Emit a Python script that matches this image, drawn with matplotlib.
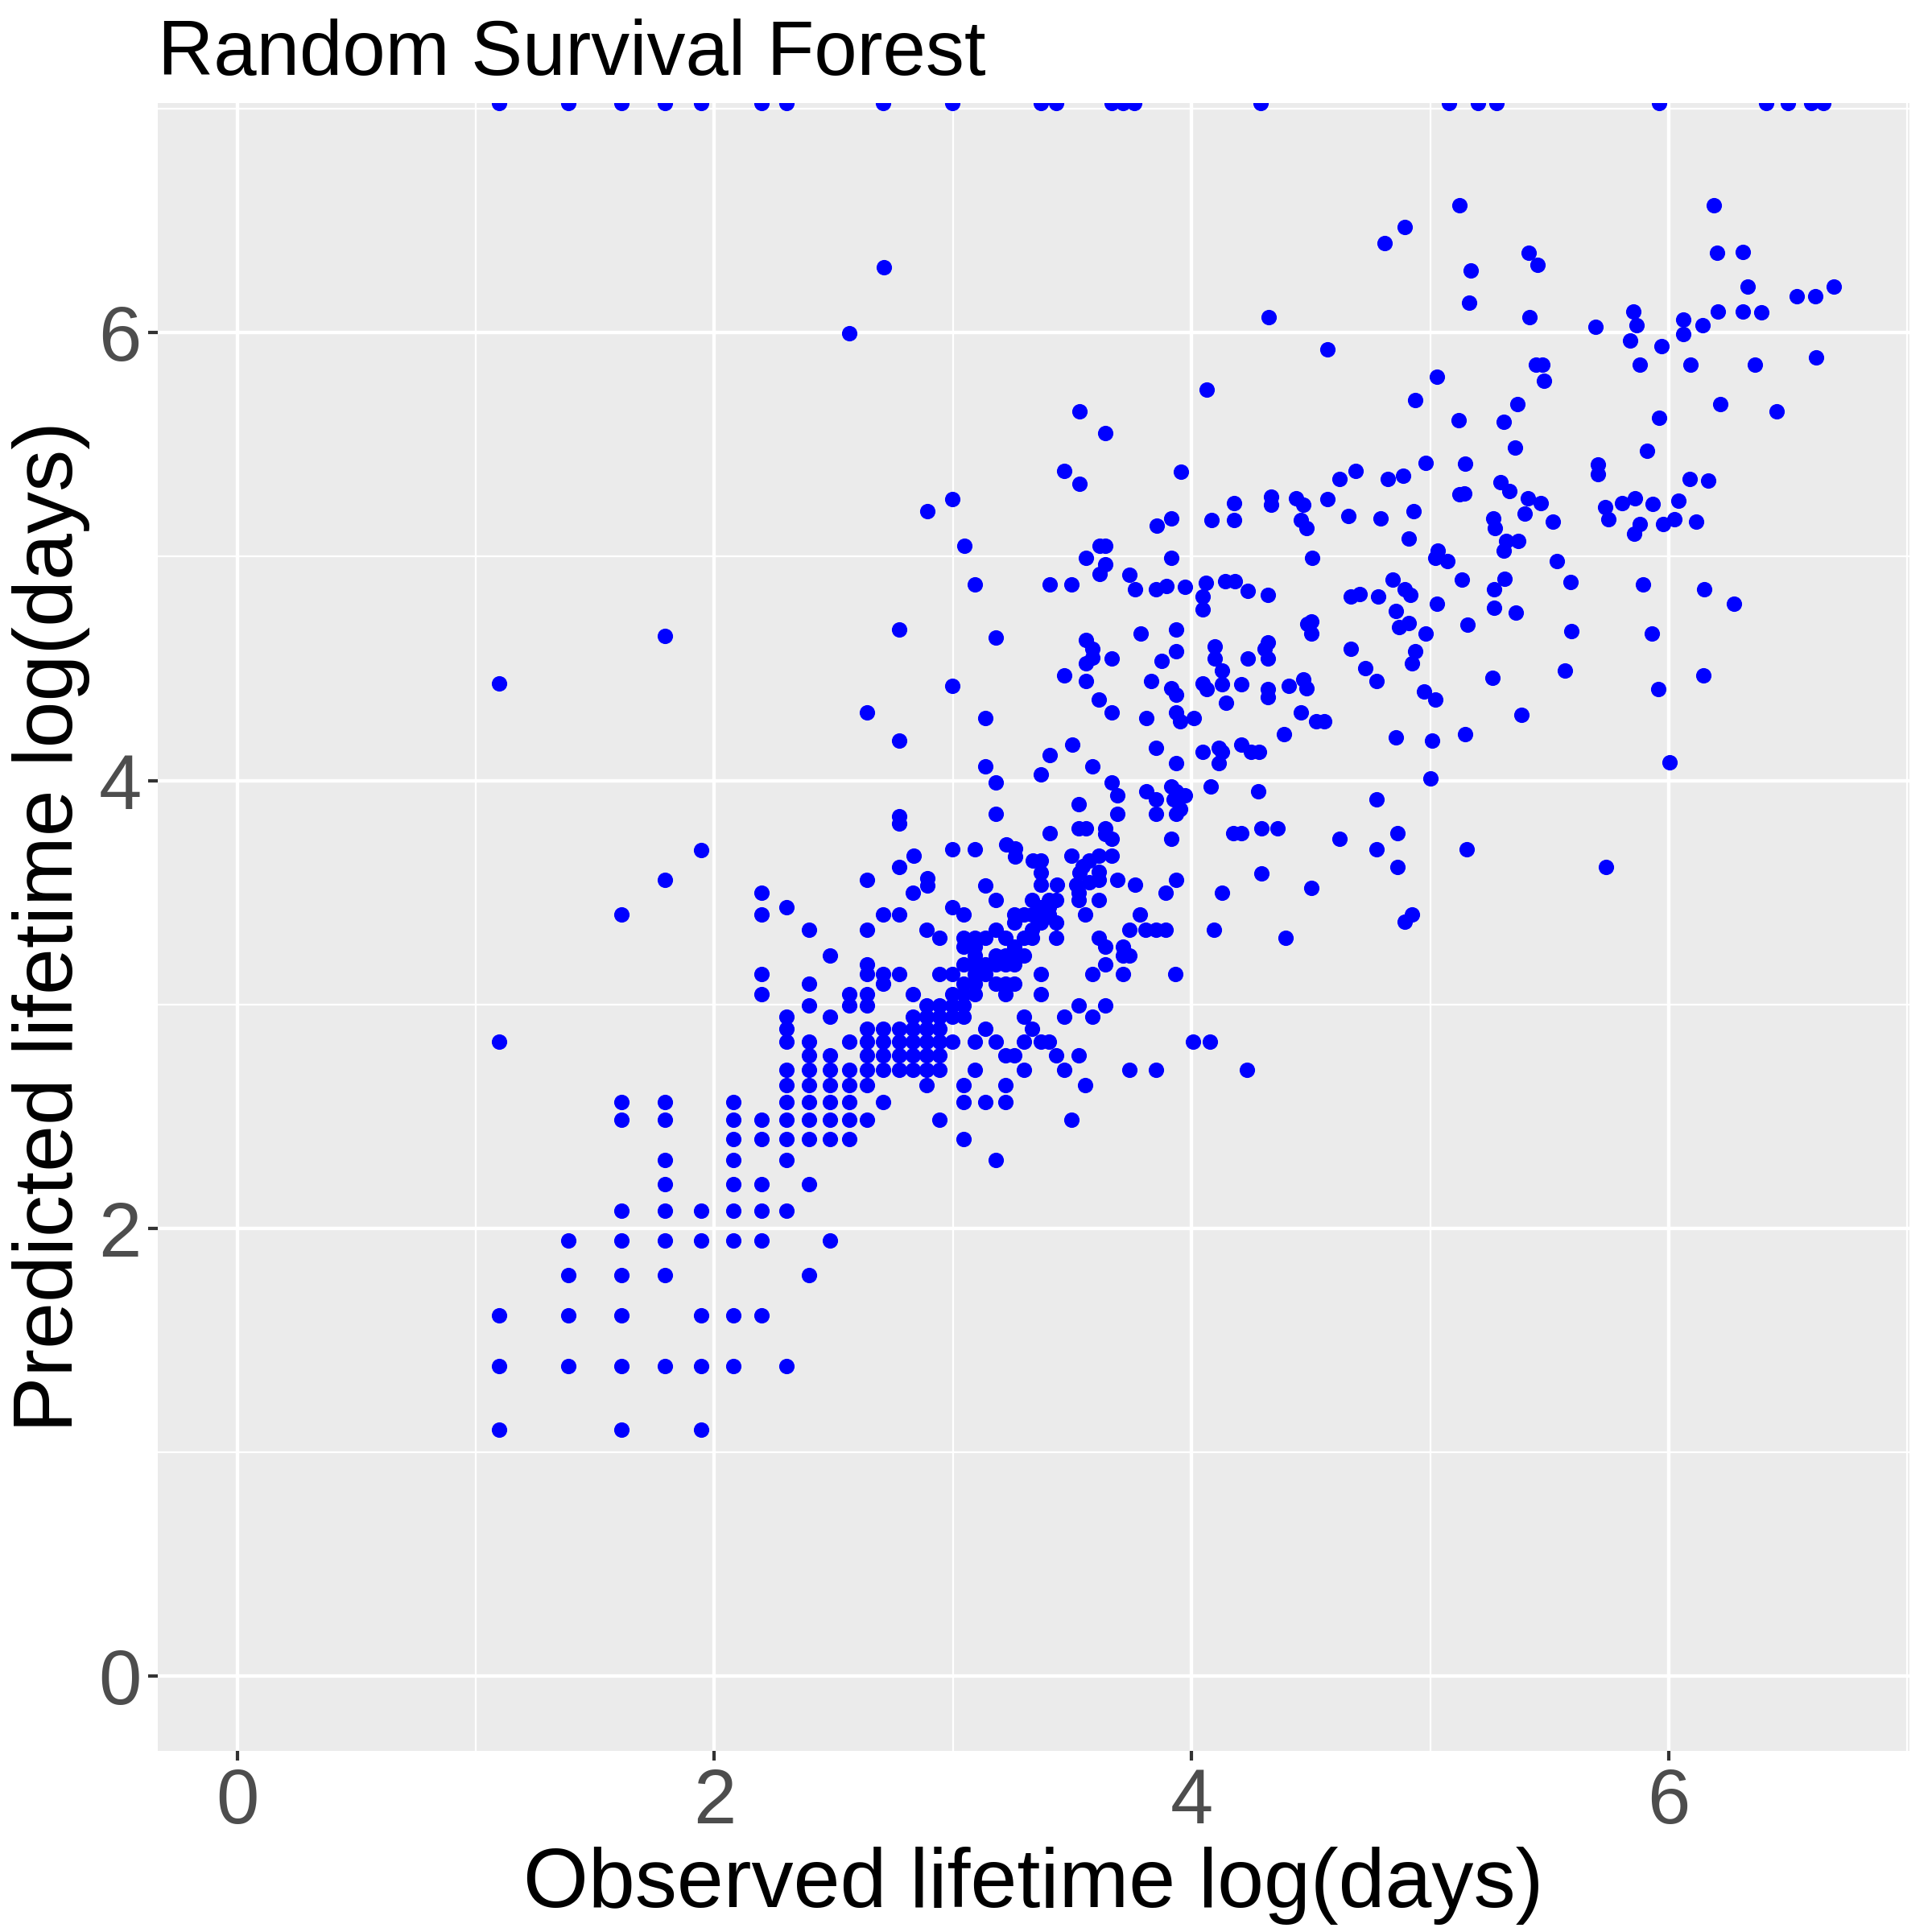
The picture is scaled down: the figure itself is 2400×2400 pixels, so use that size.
import numpy as np
import matplotlib
matplotlib.use("Agg")
import matplotlib.pyplot as plt

plt.rcParams['font.family'] = ['Liberation Sans', 'DejaVu Sans']

# observed vs predicted lifetime, both in log(days)

# points on the regular grid: one row per predicted value
grid_pred = [1.099, 1.386, 1.609, 1.792, 1.946, 2.079, 2.197, 2.303,
             2.398, 2.485, 2.565, 2.639, 2.708, 2.773, 2.833, 2.890,
             2.944, 2.996, 3.045, 3.091, 3.135, 3.178, 3.219, 3.258,
             3.296, 3.332, 3.367, 3.401, 3.434, 3.466, 3.497]
grid_obs = [
    [1.099, 1.609, 1.946],
    [1.099, 1.386, 1.609, 1.792, 1.946, 2.079, 2.303],
    [1.099, 1.386, 1.609, 1.946, 2.079, 2.197],
    [1.386, 1.609, 1.792, 2.398],
    [1.386, 1.609, 1.792, 1.946, 2.079, 2.197, 2.485],
    [1.609, 1.792, 1.946, 2.079, 2.197, 2.303],
    [1.792, 2.079, 2.197, 2.398],
    [1.792, 2.079, 2.303, 3.178],
    [2.079, 2.197, 2.303, 2.398, 2.485, 2.565, 3.045],
    [1.609, 1.792, 2.079, 2.197, 2.303, 2.398, 2.485, 2.565, 2.639, 2.944, 3.497],
    [1.609, 1.792, 2.079, 2.303, 2.398, 2.485, 2.565, 2.708, 3.045, 3.135, 3.219],
    [2.303, 2.398, 2.485, 2.565, 2.639, 2.890, 3.045, 3.219, 3.555],
    [2.303, 2.398, 2.485, 2.565, 2.639, 2.708, 2.773, 2.833, 2.890, 2.944, 3.091,
     3.296, 3.466, 3.738, 3.850, 4.234],
    [2.398, 2.485, 2.639, 2.708, 2.773, 2.833, 2.890, 2.944, 3.219, 3.258, 3.434, 3.526],
    [1.099, 2.303, 2.398, 2.565, 2.639, 2.708, 2.773, 2.833, 2.890, 2.944, 2.996,
     3.091, 3.178, 3.296, 3.367, 3.401, 4.007, 4.078],
    [2.303, 2.639, 2.708, 2.773, 2.833, 2.890, 2.944, 3.135, 3.332],
    [2.303, 2.485, 2.833, 2.890, 2.944, 2.996, 3.045, 3.296, 3.466, 3.584],
    [2.398, 2.565, 2.639, 2.890, 2.944, 2.996, 3.045, 3.526, 3.638],
    [2.197, 2.565, 2.639, 2.833, 2.996, 3.045, 3.091, 3.219, 3.367],
    [2.398, 2.708, 3.045, 3.091, 3.178, 3.219, 3.258],
    [2.197, 2.639, 2.708, 2.773, 2.944, 2.996, 3.091, 3.135, 3.367, 3.584, 3.714, 3.932],
    [2.639, 3.045, 3.091, 3.135, 3.178, 3.219, 3.258, 3.638],
    [2.485, 3.091, 3.178, 3.219, 3.258, 3.296, 3.714, 3.738],
    [3.045, 3.091, 3.258, 3.638, 3.714],
    [2.944, 3.045, 3.091, 3.135, 3.219, 3.296, 3.332, 3.434, 3.611, 4.394],
    [2.398, 2.639, 2.890, 3.178, 3.332, 3.738, 3.807, 3.850, 3.892, 4.094],
    [3.258, 3.367, 3.434],
    [1.609, 2.197, 2.708, 2.773, 3.045, 3.258, 3.296, 3.332, 3.401, 3.555, 3.784],
    [2.303, 2.996, 3.367, 3.401],
    [3.178, 3.332, 3.401, 3.434, 3.526, 3.611],
    [2.197, 2.833, 3.526, 3.892, 4.127],
]

# scattered points in the middle band (observed, predicted)
mid_pairs = [
    (3.093, 4.876), (3.404, 4.876), (3.498, 4.876), (3.763, 4.853), (3.851, 4.853),
    (3.895, 4.868), (3.972, 4.863), (4.060, 4.881), (4.047, 4.822), (4.047, 4.764),
    (4.142, 4.889), (4.182, 4.889), (4.236, 4.846), (4.320, 4.830), (4.668, 4.822),
    (2.774, 4.674), (3.180, 4.637), (3.558, 4.627), (3.585, 4.587), (3.585, 4.550),
    (3.558, 4.523), (3.665, 4.546), (3.786, 4.656), (3.934, 4.675), (3.934, 4.578),
    (3.874, 4.535), (3.467, 4.470), (3.558, 4.443), (2.996, 4.421), (3.831, 4.443),
    (3.914, 4.410), (3.934, 4.383), (4.098, 4.597), (4.098, 4.546), (4.129, 4.492),
    (4.129, 4.431), (4.047, 4.433), (4.064, 4.408), (4.208, 4.431), (4.236, 4.546),
    (4.320, 4.617), (4.307, 4.588), (4.320, 4.546), (4.503, 4.711), (4.487, 4.701),
    (4.503, 4.656), (4.668, 4.587), (4.145, 4.346), (4.320, 4.408), (4.320, 4.371),
    (4.409, 4.422), (4.467, 4.450), (4.481, 4.410), (2.640, 4.305), (3.137, 4.278),
    (3.612, 4.360), (3.665, 4.305), (3.809, 4.278), (3.934, 4.305), (3.951, 4.264),
    (4.010, 4.278), (4.457, 4.305), (4.521, 4.264), (4.557, 4.264), (4.386, 4.206),
    (2.774, 4.177), (3.499, 4.161), (3.404, 4.113), (3.851, 4.144), (3.934, 4.078),
    (4.047, 4.129), (4.114, 4.144), (4.114, 4.078), (4.128, 4.129), (4.208, 4.161),
    (4.250, 4.129), (4.283, 4.129), (3.137, 4.062), (3.370, 4.027), (3.585, 4.062),
    (3.180, 3.990), (3.665, 3.990), (3.690, 3.933), (3.809, 3.953), (3.851, 3.914),
    (3.914, 3.974), (3.934, 3.953), (3.972, 3.933), (3.925, 3.914), (3.951, 3.871),
    (3.934, 3.850), (3.851, 3.851), (3.690, 3.851), (3.528, 3.893), (4.080, 3.973),
    (4.280, 3.953), (2.774, 3.841), (2.774, 3.809), (3.180, 3.851), (3.404, 3.763),
    (3.528, 3.785), (3.558, 3.785), (3.639, 3.785), (3.639, 3.760), (3.665, 3.738),
    (3.914, 3.739), (4.175, 3.763), (4.208, 3.763), (4.293, 3.785), (4.359, 3.785),
    (4.619, 3.739), (3.222, 3.715), (3.260, 3.695), (3.260, 3.661), (2.998, 3.691),
    (3.093, 3.691), (2.835, 3.665), (2.774, 3.613), (2.640, 3.557), (2.891, 3.563),
    (2.891, 3.532), (3.137, 3.532), (3.334, 3.641), (3.368, 3.641), (3.368, 3.587),
    (3.368, 3.536), (3.498, 3.665), (3.612, 3.665), (3.665, 3.665), (3.572, 3.641),
    (3.545, 3.616), (3.531, 3.587), (3.612, 3.593), (3.612, 3.557), (3.436, 3.535),
    (3.517, 3.535), (3.572, 3.545), (3.690, 3.557), (3.763, 3.536), (3.934, 3.557),
    (4.293, 3.584), (4.503, 3.521), (1.792, 3.555), (1.946, 3.689), (1.099, 4.433),
    (1.792, 4.644),
    (4.844, 4.898), (5.133, 4.898), (5.313, 4.900), (5.588, 4.886), (5.893, 4.877),
    (6.148, 4.854), (6.274, 4.790), (4.706, 4.831), (4.782, 4.822), (4.894, 4.854),
    (4.916, 4.830), (5.027, 4.790), (5.268, 4.854), (5.268, 4.773), (5.361, 4.748),
    (4.856, 4.757), (4.871, 4.684), (4.910, 4.703), (4.981, 4.657), (5.158, 4.694),
    (5.592, 4.667), (5.930, 4.657), (4.939, 4.577), (4.923, 4.523), (4.730, 4.502),
    (4.775, 4.445), (4.975, 4.398), (5.021, 4.360), (5.262, 4.457), (5.566, 4.492),
    (5.958, 4.409), (6.145, 4.469), (5.384, 4.293), (4.856, 4.192), (5.008, 4.177),
    (5.147, 4.208), (6.004, 4.080), (5.001, 4.009), (4.775, 3.914), (4.863, 3.763),
    (4.775, 3.691), (5.152, 3.691), (4.863, 3.612), (5.738, 3.612), (4.923, 3.403),
    (4.895, 3.369),
]

# upper band (observed, predicted)
high_pairs = [
    (2.711, 6.292), (2.566, 5.996), (4.322, 6.070), (4.569, 5.926), (4.065, 5.747),
    (3.529, 5.647), (3.640, 5.553), (3.468, 5.384), (3.529, 5.326), (3.955, 5.380),
    (4.620, 5.347), (4.687, 5.383), (2.997, 5.256), (2.892, 5.202), (4.179, 5.240),
    (4.335, 5.268), (4.335, 5.233), (4.437, 5.261), (4.468, 5.233), (4.569, 5.256),
    (4.659, 5.182), (3.853, 5.138), (3.916, 5.170), (4.083, 5.162), (4.179, 5.162),
    (4.459, 5.162), (4.481, 5.126), (4.505, 4.994), (3.047, 5.047), (3.616, 5.047),
    (3.640, 5.047), (3.559, 4.994), (3.640, 4.966), (3.916, 4.994), (3.616, 4.923),
    (3.740, 4.918),
    (5.122, 6.569), (4.895, 6.473), (4.809, 6.401), (5.413, 6.356), (5.452, 6.303),
    (5.170, 6.279), (5.163, 6.135), (5.417, 6.070), (5.695, 6.027), (5.852, 6.093),
    (5.866, 6.032), (5.837, 5.964), (5.969, 5.941), (6.190, 6.569), (6.202, 6.356),
    (6.312, 6.360), (6.330, 6.205), (6.538, 6.162), (6.614, 6.162), (6.693, 6.205),
    (6.206, 6.093), (6.312, 6.093), (6.389, 6.091), (6.060, 6.057), (6.060, 5.993),
    (6.141, 6.035), (5.878, 5.856), (6.093, 5.856), (6.361, 5.856), (6.619, 5.889),
    (5.444, 5.856), (5.472, 5.856), (5.477, 5.784), (5.027, 5.803), (4.939, 5.698),
    (5.121, 5.610), (5.308, 5.602), (5.365, 5.681), (5.356, 5.488), (5.961, 5.620),
    (5.908, 5.472), (6.217, 5.681), (6.453, 5.647), (5.702, 5.413), (5.702, 5.369),
    (4.824, 5.347), (4.888, 5.360), (4.981, 5.420), (5.147, 5.414), (5.122, 5.277),
    (5.143, 5.283), (5.294, 5.331), (5.333, 5.292), (5.411, 5.261), (5.464, 5.240),
    (4.791, 5.170), (4.931, 5.202), (4.910, 5.079), (5.266, 5.170), (5.270, 5.126),
    (5.398, 5.191), (5.513, 5.156), (5.320, 5.071), (5.370, 5.071), (5.308, 5.027),
    (5.033, 5.028), (5.021, 4.994), (5.073, 4.980), (5.531, 4.980), (5.735, 5.219),
    (5.748, 5.167), (5.805, 5.240), (5.860, 5.261), (5.932, 5.234), (6.041, 5.251),
    (6.087, 5.347), (6.167, 5.341), (5.878, 5.145), (5.855, 5.103), (5.977, 5.145),
    (6.024, 5.167), (6.114, 5.156),
]

# observed values whose prediction is infinite (drawn on the top edge)
inf_obs = [1.099, 1.386, 1.609, 1.792, 1.946, 2.197, 2.303, 2.708, 2.996, 3.367,
           3.434, 3.664, 3.714, 3.761, 4.290, 5.080, 5.200, 5.280, 5.960, 6.408,
           6.500, 6.599, 6.647]

# build the point arrays
gx = np.concatenate([np.array(r) for r in grid_obs])
gy = np.concatenate([np.full(len(r), p) for r, p in zip(grid_obs, grid_pred)])
pairs = np.array(mid_pairs + high_pairs)
obs = np.concatenate([gx, pairs[:, 0]])
pred = np.concatenate([gy, pairs[:, 1]])

fig = plt.figure(figsize=(8, 8), dpi=300)
ax = fig.add_axes([0.0817, 0.0938, 0.9067, 0.8529])
ax.set_facecolor('#EBEBEB')
for s in ax.spines.values():
    s.set_visible(False)

pt = 4.6 ** 2
ax.scatter(obs, pred, s=pt, color='blue', linewidths=0, zorder=3)
ax.scatter(inf_obs, np.ones(len(inf_obs)), s=pt, color='blue', linewidths=0,
           zorder=3, transform=ax.get_xaxis_transform(), clip_on=True)

ax.set_xlim(-0.333, 7.01)
ax.set_ylim(-0.334, 7.026)
ax.set_xticks([0, 2, 4, 6])
ax.set_yticks([0, 2, 4, 6])
ax.set_xticks([1, 3, 5, 7], minor=True)
ax.set_yticks([1, 3, 5, 7], minor=True)
ax.set_axisbelow(True)
ax.grid(which='major', color='white', linewidth=1.05)
ax.grid(which='minor', color='white', linewidth=0.55)
ax.tick_params(which='major', length=2.9, width=1.0, color='#333333',
               labelsize=23, labelcolor='#4D4D4D', pad=2.0)
ax.tick_params(which='minor', length=0)

ax.set_xlabel('Observed lifetime log(days)', fontsize=25, labelpad=2)
ax.set_ylabel('Predicted lifetime log(days)', fontsize=25, labelpad=2.5)
ax.set_title('Random Survival Forest', loc='left', fontsize=23, pad=8.4)

fig.savefig('out.png', dpi=300, facecolor='white')
